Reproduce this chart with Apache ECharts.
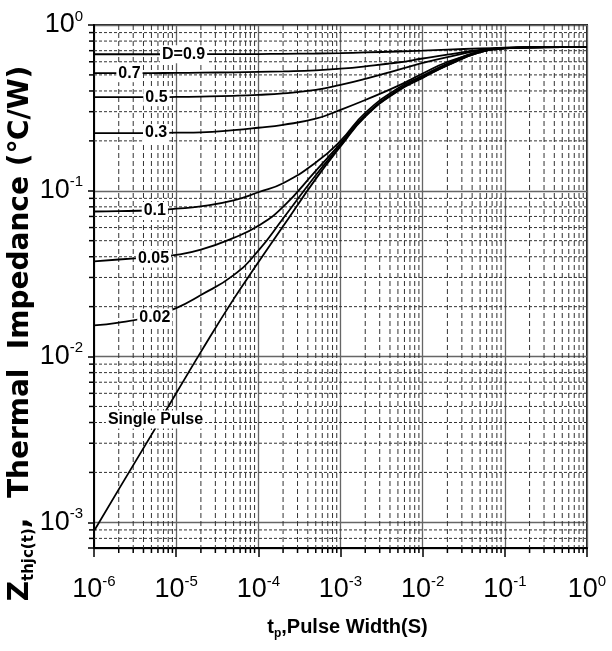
<!DOCTYPE html>
<html>
<head>
<meta charset="utf-8">
<script src="https://cdn.jsdelivr.net/npm/echarts@6/dist/echarts.min.js"></script>
<style>
html, body { margin: 0; padding: 0; background: #fff; }
#chart { width: 612px; height: 651px; }
</style>
</head>
<body>
<div id="chart"></div>
<script>
// pulse width (s)
var pulseWidth = [1e-6, 2e-6, 5e-6, 1e-5, 2e-5, 5e-5, 1e-4, 2e-4, 5e-4, 1e-3, 2e-3, 5e-3, 1e-2, 2e-2, 5e-2, 1e-1, 2e-1, 5e-1, 1];

// Zthjc (C/W), one array per duty cycle
var zD09 = [0.666, 0.666, 0.666, 0.666, 0.667, 0.667, 0.668, 0.670, 0.673, 0.677, 0.683, 0.692, 0.700, 0.710, 0.722, 0.729, 0.733, 0.735, 0.735];
var zD07 = [0.512, 0.512, 0.513, 0.514, 0.516, 0.518, 0.521, 0.525, 0.533, 0.545, 0.563, 0.594, 0.628, 0.663, 0.707, 0.727, 0.733, 0.735, 0.735];
var zD05 = [0.367, 0.367, 0.367, 0.368, 0.370, 0.374, 0.379, 0.387, 0.406, 0.435, 0.473, 0.536, 0.590, 0.641, 0.702, 0.727, 0.733, 0.735, 0.735];
var zD03 = [0.223, 0.223, 0.223, 0.224, 0.225, 0.232, 0.240, 0.250, 0.272, 0.308, 0.353, 0.429, 0.510, 0.598, 0.688, 0.725, 0.733, 0.735, 0.735];
var zD01 = [0.0750, 0.0753, 0.0763, 0.0780, 0.0805, 0.0875, 0.0980, 0.111, 0.148, 0.200, 0.295, 0.415, 0.495, 0.585, 0.695, 0.725, 0.732, 0.735, 0.735];
var zD005 = [0.0375, 0.0385, 0.0398, 0.0410, 0.0441, 0.0520, 0.0615, 0.0800, 0.132, 0.193, 0.286, 0.406, 0.486, 0.577, 0.690, 0.724, 0.732, 0.735, 0.735];
var zD002 = [0.0154, 0.0160, 0.0175, 0.0196, 0.0235, 0.0310, 0.0435, 0.0680, 0.124, 0.188, 0.282, 0.402, 0.482, 0.572, 0.687, 0.723, 0.732, 0.735, 0.735];
var zSingle = [0.000887, 0.00158, 0.00337, 0.0060, 0.01067, 0.0222, 0.0370, 0.0610, 0.118, 0.185, 0.280, 0.400, 0.480, 0.570, 0.685, 0.722, 0.732, 0.735, 0.735];

var curveNames = ['D=0.9', '0.7', '0.5', '0.3', '0.1', '0.05', '0.02', 'Single Pulse'];
var curveValues = [zD09, zD07, zD05, zD03, zD01, zD005, zD002, zSingle];

// where each curve's tag sits (data coords)
var tagX = [1.23e-5, 2.7e-6, 5.75e-6, 5.7e-6, 5.5e-6, 5.3e-6, 5.5e-6, 5.6e-6];
var tagY = [0.666, 0.512, 0.367, 0.223, 0.0755, 0.039, 0.0172, 0.00417];

// axis ranges and minor grid steps
var xMin = 1e-6, xMax = 1;
var yMin = 7e-4, yMax = 1;
var xDecades = [1e-6, 1e-5, 1e-4, 1e-3, 1e-2, 1e-1];
var yDecades = [1e-4, 1e-3, 1e-2, 1e-1];
var minorSteps = [2, 3, 4, 5, 6, 7, 8, 9];

var xMinor = [];
xDecades.forEach(function (d) {
	minorSteps.forEach(function (m) { xMinor.push([d * m, yMin]); });
});
var yMinor = [];
yDecades.forEach(function (d) {
	minorSteps.forEach(function (m) {
		var v = d * m;
		if (v > yMin && v < yMax) yMinor.push([xMin, v]);
	});
});

var sans = '"Liberation Sans", Arial, sans-serif';

function powLabel(v) {
	var e = Math.log10(v);
	var r = Math.round(e);
	if (Math.abs(e - r) > 1e-6) return '';
	return '{b|10}{s|' + r + '}';
}

var tickRich = {
	b: { fontFamily: sans, fontSize: 27, lineHeight: 32, color: '#000' },
	s: { fontFamily: sans, fontSize: 15, lineHeight: 19, verticalAlign: 'top', color: '#000' }
};

var lineSeries = curveNames.map(function (name, i) {
	var pts = pulseWidth.map(function (x, j) { return [x, curveValues[i][j]]; });
	return {
		name: name,
		type: 'line',
		data: pts,
		showSymbol: false,
		symbol: 'none',
		smooth: 0.5,
		z: 3,
		lineStyle: { color: '#000', width: 1.8 }
	};
});

var option = {
	animation: false,
	backgroundColor: '#fff',
	grid: {
		left: 94, right: 25, top: 25, bottom: 103,
		outerBoundsMode: 'none',
		containLabel: false,
		show: true, borderColor: '#222', borderWidth: 2, backgroundColor: 'transparent'
	},
	xAxis: {
		type: 'log', logBase: 10, min: xMin, max: xMax,
		axisLine: { onZero: false, lineStyle: { color: '#000', width: 2 } },
		axisTick: { show: true, length: 9, lineStyle: { color: '#000', width: 1.5 } },
		splitLine: { show: true, lineStyle: { color: '#666', width: 1.3 } },
		axisLabel: { margin: 26, formatter: powLabel, rich: tickRich },
		name: '{m|t}{sub|p}{m|,Pulse Width(S)}',
		nameLocation: 'middle',
		nameGap: 66,
		nameMoveOverlap: false,
		nameTextStyle: {
			padding: [0, 0, 0, 14],
			rich: {
				m: { fontFamily: sans, fontWeight: 'bold', fontSize: 20, lineHeight: 26, color: '#000' },
				sub: { fontFamily: sans, fontWeight: 'bold', fontSize: 12, lineHeight: 12, verticalAlign: 'bottom', color: '#000' }
			}
		}
	},
	yAxis: {
		type: 'log', logBase: 10, min: yMin, max: yMax,
		axisLine: { onZero: false, lineStyle: { color: '#000', width: 2 } },
		axisTick: { show: true, length: 6, lineStyle: { color: '#000', width: 1.5 } },
		splitLine: { show: true, lineStyle: { color: '#666', width: 1.3 } },
		axisLabel: { margin: 11, formatter: powLabel, rich: tickRich },
		name: '{m|Z}{sub|thjc(t)}{m|,  Thermal  Impedance (℃/W)}',
		nameLocation: 'middle',
		nameRotate: 90,
		nameGap: 57,
		nameMoveOverlap: false,
		nameTextStyle: {
			padding: [0, 94, 0, 0],
			rich: {
				m: { fontFamily: '"DejaVu Sans", sans-serif', fontWeight: 'bold', fontSize: 28, lineHeight: 32, color: '#000' },
				sub: { fontFamily: '"DejaVu Sans", sans-serif', fontWeight: 'bold', fontSize: 15, lineHeight: 15, verticalAlign: 'bottom', color: '#000' }
			}
		}
	},
	series: [
		{
			type: 'custom',
			silent: true,
			z: 1,
			encode: { x: 0, y: 1 },
			data: xMinor,
			renderItem: function (params, api) {
				var v = api.value(0);
				var top = api.coord([v, yMax]);
				var bot = api.coord([v, yMin]);
				return {
					type: 'group',
					children: [
						{ type: 'line', shape: { x1: top[0], y1: top[1], x2: bot[0], y2: bot[1] },
							style: { stroke: '#333', lineWidth: 1, lineDash: [5, 3] } },
						{ type: 'line', shape: { x1: bot[0], y1: bot[1], x2: bot[0], y2: bot[1] + 5 },
							style: { stroke: '#000', lineWidth: 1.5 } }
					]
				};
			}
		},
		{
			type: 'custom',
			silent: true,
			z: 1,
			encode: { x: 0, y: 1 },
			data: yMinor,
			renderItem: function (params, api) {
				var v = api.value(1);
				var left = api.coord([xMin, v]);
				var right = api.coord([xMax, v]);
				return {
					type: 'group',
					children: [
						{ type: 'line', shape: { x1: left[0], y1: left[1], x2: right[0], y2: right[1] },
							style: { stroke: '#333', lineWidth: 1, lineDash: [3, 2] } },
						{ type: 'line', shape: { x1: left[0] - 5, y1: left[1], x2: left[0], y2: left[1] },
							style: { stroke: '#000', lineWidth: 1.5 } }
					]
				};
			}
		}
	].concat(lineSeries).concat([
		{
			type: 'line',
			data: [],
			z: 5,
			markPoint: {
				symbol: 'rect',
				symbolSize: 1,
				itemStyle: { color: 'rgba(0,0,0,0)' },
				label: {
					show: true, position: 'inside', formatter: '{b}',
					fontFamily: sans, fontWeight: 'bold', fontSize: 16, color: '#000',
					backgroundColor: '#fff', padding: [1, 2]
				},
				data: curveNames.map(function (n, i) {
					return { name: n, coord: [tagX[i], tagY[i]] };
				})
			}
		}
	])
};

var myChart = echarts.init(document.getElementById('chart'));
myChart.setOption(option);
</script>
</body>
</html>
